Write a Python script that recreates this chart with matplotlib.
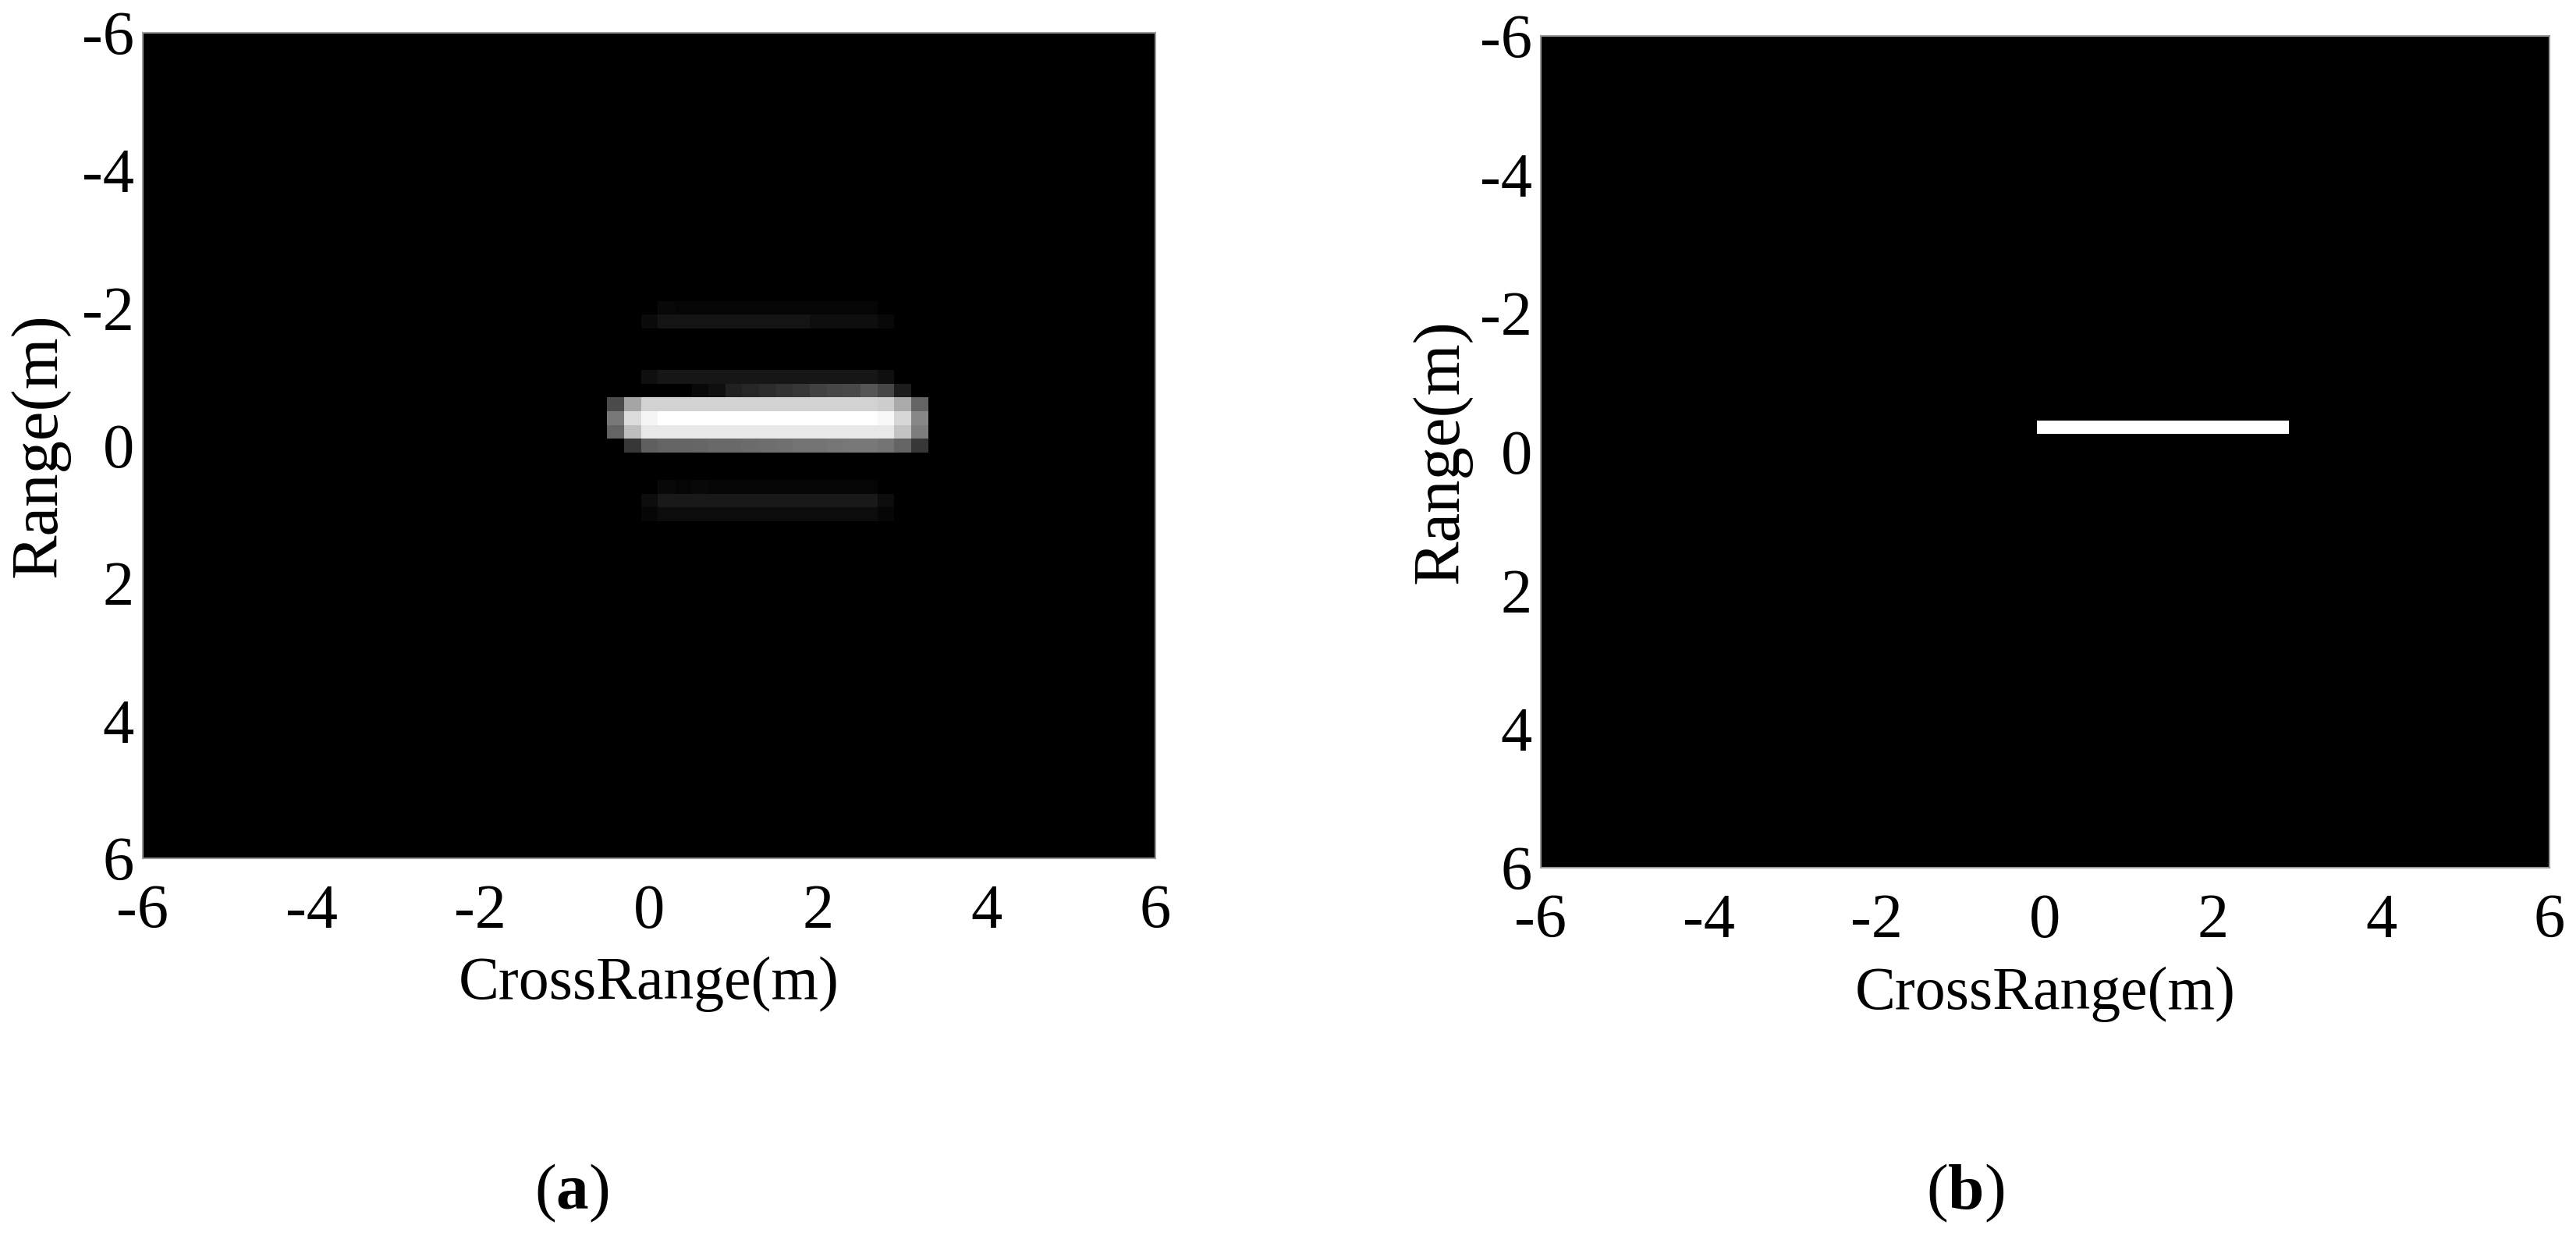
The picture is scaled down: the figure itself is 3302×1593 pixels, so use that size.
import numpy as np
import matplotlib
matplotlib.use("Agg")
import matplotlib.pyplot as plt

plt.rcParams["font.family"] = ["Liberation Serif", "DejaVu Serif"]
plt.rcParams["axes.unicode_minus"] = False
plt.rcParams["mathtext.fontset"] = "custom"
plt.rcParams["mathtext.rm"] = "Liberation Serif"
plt.rcParams["mathtext.bf"] = "Liberation Serif:bold"

# imaging grid: 61 x 61 cells of 0.2 m, centred on -6 ... 6
grid_n = 61
cell = 0.2
tick_vals = [-6, -4, -2, 0, 2, 4, 6]

# non-zero part of the ISAR image (a), grey levels 0-255
# first row is at range -2.0 m, first column at cross range -0.4 m
block_row0 = 20
block_col0 = 28
block = [
    [0, 0, 0, 8, 5, 5, 5, 5, 5, 5, 5, 5, 5, 5, 5, 5, 0, 0, 0],
    [0, 0, 10, 20, 20, 20, 20, 20, 20, 20, 20, 20, 14, 14, 14, 14, 8, 0, 0],
    [0] * 19,
    [0] * 19,
    [0] * 19,
    [0, 0, 15, 22, 22, 22, 22, 22, 22, 22, 22, 22, 22, 22, 22, 22, 15, 0, 0],
    [0, 0, 0, 0, 0, 8, 15, 32, 38, 45, 50, 55, 65, 70, 72, 85, 70, 28, 0],
    [75, 165, 210, 210, 210, 210, 210, 210, 210, 210, 210, 210, 210, 210, 210, 210, 205, 170, 100],
    [120, 220, 245, 255, 255, 255, 255, 255, 255, 255, 255, 255, 255, 255, 255, 255, 248, 215, 135],
    [100, 190, 232, 232, 232, 232, 232, 232, 232, 232, 232, 232, 232, 232, 232, 232, 232, 195, 125],
    [0, 55, 95, 100, 100, 102, 105, 105, 108, 110, 112, 115, 115, 118, 120, 120, 115, 100, 55],
    [0] * 19,
    [0] * 19,
    [0, 0, 0, 8, 5, 8, 5, 5, 5, 5, 5, 5, 5, 5, 5, 5, 0, 0, 0],
    [0, 0, 12, 25, 25, 25, 25, 25, 25, 25, 25, 25, 25, 25, 25, 25, 12, 0, 0],
    [0, 0, 6, 12, 12, 12, 12, 12, 12, 12, 12, 12, 12, 12, 12, 12, 6, 0, 0],
]

# true target (b): a thin line
target_x = [-0.1, 2.9]
target_y = [-0.45, -0.26]

img = np.zeros((grid_n, grid_n))
blk = np.array(block, dtype=float)
img[block_row0:block_row0 + blk.shape[0], block_col0:block_col0 + blk.shape[1]] = blk

half = (grid_n * cell) / 2
fig = plt.figure(figsize=(33.02, 15.93), dpi=100)

ax1 = fig.add_axes([0.0554, 0.3095, 0.3931, 0.6641])
ax1.imshow(img, cmap="gray", vmin=0, vmax=255, interpolation="nearest",
           extent=[-half, half, half, -half], aspect="auto")

ax2 = fig.add_axes([0.5981, 0.3020, 0.3916, 0.6691])
ax2.set_facecolor("black")
ax2.fill_between(target_x, target_y[0], target_y[1], color="white", linewidth=0)

for ax, ylx in ((ax1, -0.072), (ax2, -0.068)):
    ax.set_xlim(-6, 6)
    ax.set_ylim(6, -6)
    ax.set_xticks(tick_vals)
    ax.set_yticks(tick_vals)
    ax.set_xticklabels([str(v) for v in tick_vals])
    ax.set_yticklabels([str(v) for v in tick_vals])
    ax.tick_params(axis="both", length=0, labelsize=58)
    ax.tick_params(axis="x", pad=24)
    ax.tick_params(axis="y", pad=8)
    for s in ax.spines.values():
        s.set_color("#999999")
        s.set_linewidth(1.5)
    ax.set_xlabel("CrossRange(m)", fontsize=56)
    ax.set_ylabel("Range(m)", fontsize=61)
    ax.xaxis.set_label_coords(0.5, -0.119)
    ax.yaxis.set_label_coords(ylx, 0.5)

fig.text(0.222, 0.040, r"($\mathbf{a}$)", fontsize=60, ha="center", va="center")
fig.text(0.7629, 0.040, r"($\mathbf{b}$)", fontsize=60, ha="center", va="center")

fig.savefig("out.png", dpi=100, facecolor="white")
